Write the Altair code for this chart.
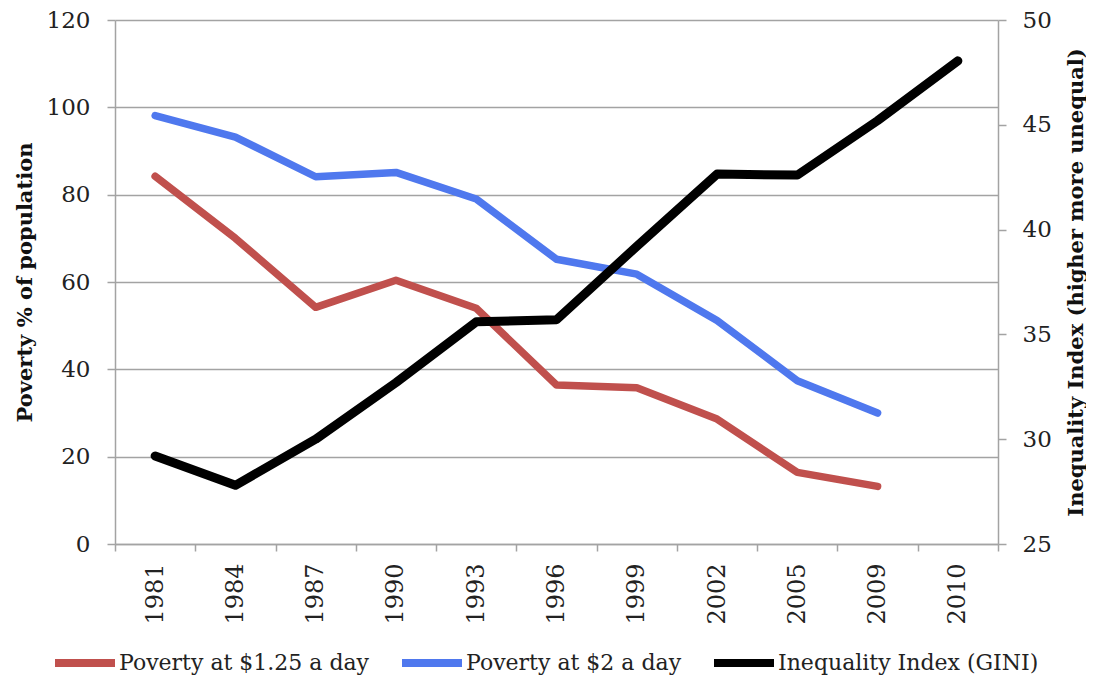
import altair as alt
import pandas as pd

years = ["1981", "1984", "1987", "1990", "1993", "1996", "1999", "2002", "2005", "2009", "2010"]
poverty_125 = [84.2, 70.0, 54.2, 60.4, 54.0, 36.4, 35.8, 28.6, 16.4, 13.2]
poverty_2 = [98.1, 93.2, 84.1, 85.1, 79.0, 65.2, 61.8, 51.2, 37.4, 30.0]
gini = [29.2, 27.8, 30.0, 32.7, 35.6, 35.7, 39.2, 42.65, 42.6, 45.2, 48.05]

names = ["Poverty at $1.25 a day", "Poverty at $2 a day", "Inequality Index (GINI)"]
colors = ["#c0504d", "#4f78ee", "#000000"]

pov_rows = []
for y, v in zip(years, poverty_125):
    pov_rows.append({"year": y, "value": v, "series": names[0]})
for y, v in zip(years, poverty_2):
    pov_rows.append({"year": y, "value": v, "series": names[1]})
pov_df = pd.DataFrame(pov_rows)
gini_df = pd.DataFrame({"year": years, "value": gini, "series": names[2]})

FONT = "DejaVu Serif"
GRAY = "#a3a3a3"

x_enc = alt.X(
    "year:O",
    scale=alt.Scale(type="band", domain=years, paddingInner=0, paddingOuter=0),
    bandPosition=0.5,
    axis=alt.Axis(
        title=None, tickBand="extent", labelAngle=270, labelFont=FONT, labelFontSize=24,
        labelColor="#222222", tickSize=7, labelPadding=12, domainColor=GRAY, tickColor=GRAY,
        domainWidth=1.5, tickWidth=1.5, grid=False,
    ),
)

color_enc = alt.Color(
    "series:N",
    scale=alt.Scale(domain=names, range=colors),
    legend=alt.Legend(title=None),
)

left = alt.Chart(pov_df).mark_line(strokeWidth=7.5, strokeCap="round", strokeJoin="round").encode(
    x=x_enc,
    y=alt.Y(
        "value:Q",
        scale=alt.Scale(domain=[0, 120], nice=False),
        axis=alt.Axis(
            title="Poverty % of population", values=[0, 20, 40, 60, 80, 100, 120],
            labelFont=FONT, labelFontSize=23, labelColor="#222222", tickSize=8, labelPadding=17,
            domainColor=GRAY, tickColor=GRAY, domainWidth=1.5, tickWidth=1.5,
            grid=True, gridColor=GRAY, gridWidth=1.5,
            titleFont=FONT, titleFontSize=21, titleFontWeight="bold", titleColor="#111111",
            titleAngle=270, titleX=-90, titleY=262, titleAlign="center", titleBaseline="middle",
        ),
    ),
    color=color_enc,
)

right = alt.Chart(gini_df).mark_line(strokeWidth=9, strokeCap="round", strokeJoin="round").encode(
    x=x_enc,
    y=alt.Y(
        "value:Q",
        scale=alt.Scale(domain=[25, 50], nice=False),
        axis=alt.Axis(
            orient="right", title="Inequality Index (higher more unequal)",
            values=[25, 30, 35, 40, 45, 50],
            labelFont=FONT, labelFontSize=23, labelColor="#222222", tickSize=8, labelPadding=16,
            domainColor=GRAY, tickColor=GRAY, domainWidth=1.5, tickWidth=1.5, grid=False,
            titleFont=FONT, titleFontSize=21, titleFontWeight="bold", titleColor="#111111",
            titleAngle=270, titleX=78, titleY=262, titleAlign="center", titleBaseline="middle",
        ),
    ),
    color=color_enc,
)

chart = (
    alt.layer(left, right)
    .resolve_scale(y="independent", color="shared")
    .properties(
        width=883, height=524,
        autosize=alt.AutoSizeParams(type="none"),
        padding={"left": 107, "top": 12, "right": 88, "bottom": 132},
        background="white",
    )
    .configure_view(strokeWidth=0)
    .configure_legend(
        orient="none", legendX=-64, legendY=609, direction="horizontal",
        symbolType="stroke", symbolSize=3600, symbolStrokeWidth=8,
        labelFont=FONT, labelFontSize=22, labelColor="#222222", labelOffset=0,
        columnPadding=16, labelLimit=400,
    )
)

chart.save("out.html", embed_options={"renderer": "svg", "actions": False})
